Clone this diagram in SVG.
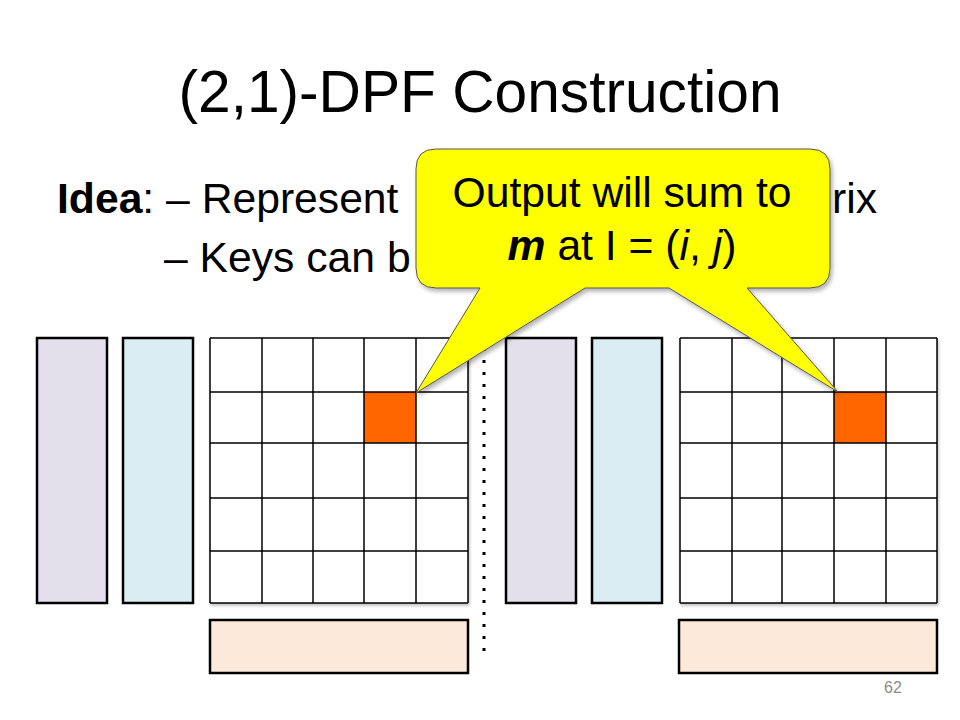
<svg xmlns="http://www.w3.org/2000/svg" width="960" height="720" viewBox="0 0 960 720">
<style>
.t{font-family:"Liberation Sans",Arial,sans-serif;fill:#000}
.bar{stroke:#000;stroke-width:2.5}
.cell{fill:#fff;stroke:#000;stroke-width:1.5}
.peach{fill:#FCE9DA;stroke:#000;stroke-width:2.5}
.hot{fill:#FF6600}
</style>
<defs>
<filter id="sh" x="-10%" y="-10%" width="130%" height="130%">
<feDropShadow dx="2" dy="3" stdDeviation="2" flood-color="#000" flood-opacity="0.3"/>
</filter>
<filter id="gsh" x="-5%" y="-5%" width="110%" height="110%">
<feDropShadow dx="1" dy="2" stdDeviation="1.5" flood-color="#000" flood-opacity="0.25"/>
</filter>
</defs>
<rect width="960" height="720" fill="#fff"/>

<text class="t" x="480" y="112" font-size="58.67" text-anchor="middle">(2,1)-DPF Construction</text>
<text class="t" x="57" y="213" font-size="42.67"><tspan font-weight="bold">Idea</tspan>: – Represent</text>
<text class="t" x="832" y="213" font-size="42.67">rix</text>
<text class="t" x="164" y="272" font-size="42.67">– Keys can b</text>

<g id="left-purple"><rect class="bar" x="37" y="338" width="70" height="265" fill="#E3DFEB"/></g>
<g id="left-blue"><rect class="bar" x="123" y="338" width="70" height="265" fill="#DAEDF2"/></g>
<g id="left-grid" filter="url(#gsh)">
<rect x="210" y="338" width="258" height="265" fill="#fff"/>
<rect class="hot" x="364" y="392" width="52" height="51"/>
<g fill="none" stroke="#000" stroke-width="1.5">
<path d="M210 338V603M262 338V603M313 338V603M364 338V603M416 338V603M468 338V603"/>
<path d="M210 338H468M210 392H468M210 443H468M210 498H468M210 551H468M210 603H468"/>
</g>
</g>
<g id="left-sum"><rect class="peach" x="210" y="620" width="258" height="53"/></g>

<g id="divider"><line x1="484" y1="300" x2="484" y2="656" stroke="#000" stroke-width="3" stroke-dasharray="3 9"/></g>

<g id="right-purple"><rect class="bar" x="506" y="338" width="70" height="265" fill="#E3DFEB"/></g>
<g id="right-blue"><rect class="bar" x="592" y="338" width="70" height="265" fill="#DAEDF2"/></g>
<g id="right-grid" filter="url(#gsh)">
<rect x="680" y="338" width="257" height="265" fill="#fff"/>
<rect class="hot" x="834" y="392" width="52" height="51"/>
<g fill="none" stroke="#000" stroke-width="1.5">
<path d="M680 338V603M732 338V603M782 338V603M834 338V603M886 338V603M937 338V603"/>
<path d="M680 338H937M680 392H937M680 443H937M680 498H937M680 551H937M680 603H937"/>
</g>
</g>
<g id="right-sum"><rect class="peach" x="679" y="620" width="258" height="53"/></g>

<g id="callout">
<path filter="url(#sh)" fill="#FFFF00" stroke="#555" stroke-width="1" d="M436 149H810Q830 149 830 169V268Q830 288 810 288H747L838 392L669 288H585L416 393L480 288H436Q416 288 416 268V169Q416 149 436 149Z"/>
<text class="t" x="622" y="207" font-size="42.67" text-anchor="middle">Output will sum to</text>
<text class="t" x="622" y="260" font-size="42.67" text-anchor="middle"><tspan font-weight="bold" font-style="italic">m</tspan> at I = (<tspan font-style="italic">i</tspan>, <tspan font-style="italic">j</tspan>)</text>
</g>

<text x="893" y="693" font-family="Liberation Sans,Arial,sans-serif" font-size="16" fill="#8C8C8C" text-anchor="middle">62</text>
</svg>
